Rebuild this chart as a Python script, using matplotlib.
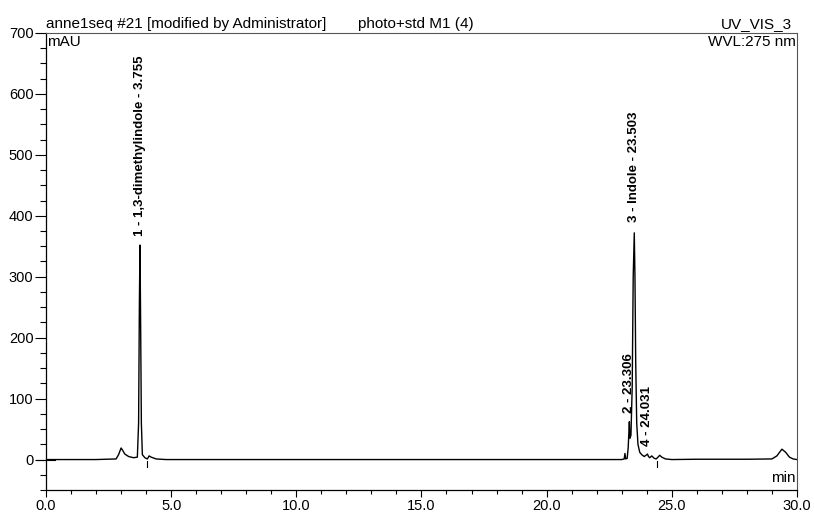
import matplotlib
matplotlib.use("Agg")
import matplotlib.pyplot as plt
from matplotlib.ticker import MultipleLocator

plt.rcParams['font.family'] = ['Liberation Sans', 'DejaVu Sans']

# trace: retention time (min) vs absorbance (mAU)
time_min = [0.0, 2.0, 2.8, 2.9, 3.0, 3.05, 3.15, 3.3, 3.5, 3.65, 3.70, 3.73, 3.755,
            3.78, 3.81, 3.85, 3.95, 4.05, 4.12, 4.2, 4.4, 4.8, 10.0, 15.0, 20.0,
            23.0, 23.1, 23.13, 23.16, 23.22, 23.26, 23.306, 23.33, 23.37, 23.42,
            23.46, 23.503, 23.53, 23.56, 23.6, 23.65, 23.72, 23.8, 23.9, 23.97,
            24.031, 24.07, 24.12, 24.2, 24.3, 24.38, 24.45, 24.52, 24.6, 24.75,
            25.0, 26.0, 28.0, 29.0, 29.2, 29.4, 29.55, 29.7, 29.85, 30.0]
signal_mau = [0, 0, 1, 8, 19, 16, 9, 5, 3, 4, 60, 250, 352,
              230, 60, 8, 3, 1, 6, 4, 1, 0, 0, 0, 0,
              0, 1, 10, 1, 2, 20, 62, 35, 40, 120,
              300, 372, 300, 160, 60, 25, 12, 8, 5, 7,
              9, 5, 3, 6, 2, 1, 4, 7, 4, 1,
              0, 0.5, 0.5, 1, 6, 17, 12, 4, 1, 0]

peak_times = [3.755, 23.306, 23.503, 24.031]
peak_labels = ["1 - 1,3-dimethylindole - 3.755", "2 - 23.306",
               "3 - Indole - 23.503", "4 - 24.031"]
label_bottoms = [367, 77, 390, 22]
marker_times = [4.05, 24.4]

fig = plt.figure(figsize=(8.14, 5.15), dpi=100)
ax = fig.add_axes([0.0565, 0.0485, 0.9225, 0.8875])

ax.plot(time_min, signal_mau, color='black', lw=1.0)
for t in marker_times:
    ax.plot([t, t], [-3, -12], color='black', lw=0.8)

for t, lab, yb in zip(peak_times, peak_labels, label_bottoms):
    ax.text(t, yb, lab, rotation=90, ha='center', va='bottom',
            fontsize=9.5, fontweight='bold')

ax.set_xlim(0, 30)
ax.set_ylim(-50, 700)
ax.xaxis.set_major_locator(MultipleLocator(5))
ax.xaxis.set_minor_locator(MultipleLocator(1))
ax.yaxis.set_major_locator(MultipleLocator(100))
ax.yaxis.set_minor_locator(MultipleLocator(25))
ax.set_xticklabels([f"{v:.1f}" for v in ax.get_xticks()])
ax.tick_params(axis='both', which='major', width=0.8, labelsize=10.5, direction='out')
ax.tick_params(axis='both', which='minor', length=4, width=0.8, direction='out')
ax.tick_params(axis='y', which='major', length=8, pad=1)
ax.tick_params(axis='x', which='major', length=5, pad=1.5)
ax.tick_params(axis='x', which='minor', length=3)

for side in ['top', 'right']:
    ax.spines[side].set_color('#555555')
    ax.spines[side].set_linewidth(0.8)
for side in ['left', 'bottom']:
    ax.spines[side].set_linewidth(0.9)

# zero tick crossing the y axis
ax.plot([-0.35, 0.35], [0, 0], color='black', lw=0.8, clip_on=False)

ax.text(0.0, 1.005, "anne1seq #21 [modified by Administrator]", transform=ax.transAxes,
        ha='left', va='bottom', fontsize=11)
ax.text(0.415, 1.005, "photo+std M1 (4)", transform=ax.transAxes,
        ha='left', va='bottom', fontsize=11)
ax.text(0.993, 1.005, "UV_VIS_3", transform=ax.transAxes,
        ha='right', va='bottom', fontsize=11)
ax.text(0.002, 0.995, "mAU", transform=ax.transAxes, ha='left', va='top', fontsize=11)
ax.text(0.998, 0.995, "WVL:275 nm", transform=ax.transAxes, ha='right', va='top',
        fontsize=11)
ax.text(0.998, 0.01, "min", transform=ax.transAxes, ha='right', va='bottom',
        fontsize=11)

fig.savefig("out.png", dpi=100)
